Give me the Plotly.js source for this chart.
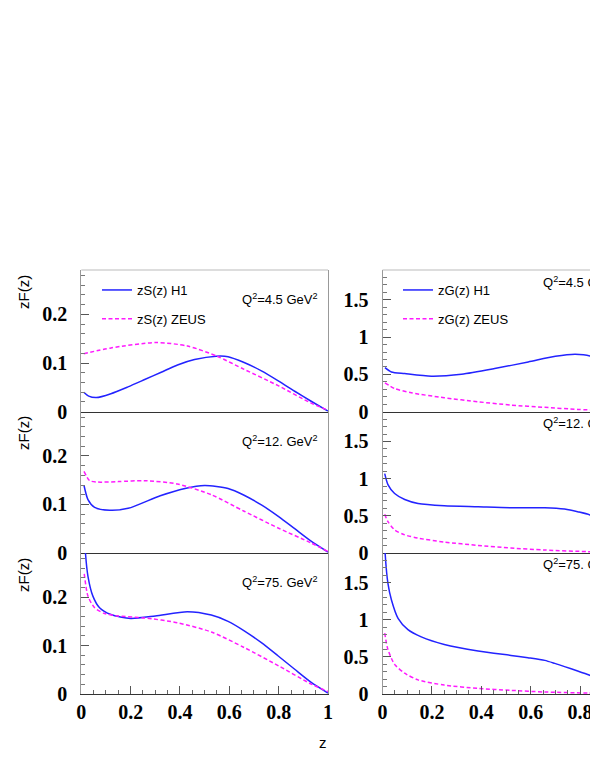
<!DOCTYPE html>
<html>
<head>
<meta charset="utf-8">
<script src="https://cdn.plot.ly/plotly-3.0.1.min.js"></script>
<style>
html,body{margin:0;padding:0;overflow:hidden;background:#fff;}
#chart{width:660px;height:763px;}
</style>
</head>
<body>
<div id="chart"></div>
<script>
// ---- Data ----
// Left column: zS(z) (sea), right column: zG(z) (gluon)
const q2Labels = ["Q<sup>2</sup>=4.5 GeV<sup>2</sup>", "Q<sup>2</sup>=12. GeV<sup>2</sup>", "Q<sup>2</sup>=75. GeV<sup>2</sup>"];
const legendNames = ["zS(z) H1", "zS(z) ZEUS", "zG(z) H1", "zG(z) ZEUS"];
const xTickVals = [0, 0.2, 0.4, 0.6, 0.8, 1];

// Q2 = 4.5
const zS_H1_q1 = [0.01, 0.03, 0.061, 0.12, 0.189, 0.257, 0.324, 0.39, 0.459, 0.547, 0.595, 0.66, 0.73, 0.80, 0.865, 0.93, 1.0];
const S_H1_q1  = [0.040, 0.032, 0.029, 0.037, 0.051, 0.066, 0.081, 0.096, 0.107, 0.114, 0.113, 0.101, 0.084, 0.063, 0.042, 0.022, 0.001];
const zS_ZE_q1 = [0.01, 0.12, 0.30, 0.43, 0.55, 0.66, 0.80, 0.93, 1.0];
const S_ZE_q1  = [0.119, 0.131, 0.142, 0.135, 0.114, 0.087, 0.053, 0.018, 0.003];
const zG_H1_q1 = [0.01, 0.036, 0.09, 0.198, 0.32, 0.454, 0.59, 0.70, 0.78, 0.84, 0.90, 0.95, 1.0];
const G_H1_q1  = [0.59, 0.533, 0.511, 0.476, 0.502, 0.578, 0.667, 0.742, 0.769, 0.747, 0.65, 0.45, 0.0];
const zG_ZE_q1 = [0.01, 0.049, 0.117, 0.25, 0.387, 0.52, 0.657, 0.79, 0.9, 1.0];
const G_ZE_q1  = [0.387, 0.311, 0.253, 0.187, 0.133, 0.089, 0.058, 0.031, 0.015, 0.0];

// Q2 = 12
const zS_H1_q2 = [0.011, 0.027, 0.054, 0.115, 0.19, 0.32, 0.42, 0.50, 0.595, 0.66, 0.73, 0.80, 0.865, 0.93, 1.0];
const S_H1_q2  = [0.139, 0.110, 0.094, 0.088, 0.092, 0.118, 0.133, 0.139, 0.133, 0.119, 0.099, 0.075, 0.050, 0.025, 0.002];
const zS_ZE_q2 = [0.011, 0.034, 0.068, 0.15, 0.257, 0.39, 0.527, 0.66, 0.80, 0.93, 1.0];
const S_ZE_q2  = [0.168, 0.149, 0.146, 0.147, 0.149, 0.142, 0.120, 0.086, 0.051, 0.021, 0.003];
const zG_H1_q2 = [0.009, 0.022, 0.049, 0.09, 0.144, 0.25, 0.387, 0.52, 0.657, 0.737, 0.79, 0.84, 0.92, 1.0];
const G_H1_q2  = [1.067, 0.92, 0.80, 0.72, 0.667, 0.636, 0.622, 0.609, 0.609, 0.591, 0.556, 0.511, 0.35, 0.0];
const zG_ZE_q2 = [0.009, 0.022, 0.049, 0.09, 0.144, 0.25, 0.387, 0.52, 0.657, 0.83, 1.0];
const G_ZE_q2  = [0.52, 0.422, 0.311, 0.244, 0.20, 0.147, 0.102, 0.067, 0.040, 0.018, 0.0];

// Q2 = 75
const zS_H1_q3 = [0.008, 0.017, 0.027, 0.047, 0.074, 0.12, 0.20, 0.30, 0.43, 0.527, 0.595, 0.662, 0.730, 0.797, 0.865, 0.932, 1.0];
const S_H1_q3  = [0.38, 0.29, 0.243, 0.202, 0.178, 0.164, 0.156, 0.161, 0.170, 0.163, 0.150, 0.130, 0.106, 0.079, 0.051, 0.024, 0.002];
const zS_ZE_q3 = [0.012, 0.027, 0.054, 0.095, 0.149, 0.257, 0.39, 0.527, 0.66, 0.80, 0.93, 1.0];
const S_ZE_q3  = [0.248, 0.202, 0.178, 0.166, 0.161, 0.157, 0.147, 0.128, 0.096, 0.058, 0.021, 0.005];
const zG_H1_q3 = [0.006, 0.011, 0.022, 0.036, 0.063, 0.103, 0.157, 0.25, 0.387, 0.52, 0.589, 0.657, 0.697, 0.737, 0.79, 0.839, 0.92, 1.0];
const G_H1_q3  = [2.3, 1.88, 1.49, 1.27, 1.02, 0.867, 0.769, 0.667, 0.578, 0.52, 0.489, 0.453, 0.413, 0.369, 0.311, 0.253, 0.14, 0.0];
const zG_ZE_q3 = [0.009, 0.022, 0.049, 0.09, 0.144, 0.25, 0.387, 0.52, 0.657, 0.83, 1.0];
const G_ZE_q3  = [0.82, 0.60, 0.40, 0.28, 0.19, 0.12, 0.076, 0.049, 0.027, 0.013, 0.0];

// ---- Styling / layout ----
const W = 660, H = 763;
const BLUE = '#2323ff', MAG = '#ff1aff';
const blueLine = {color: BLUE, width: 1.5, shape: 'spline', smoothing: 0.7};
const magLine = {color: MAG, width: 1.5, dash: '4px,2.5px', shape: 'spline', smoothing: 0.7};

function tr(x, y, ax, line, name, legend, show) {
  return {x: x, y: y, type: 'scatter', mode: 'lines', xaxis: 'x' + ax, yaxis: 'y' + ax,
          line: line, name: name, showlegend: show, legend: legend, legendgroup: name, hoverinfo: 'skip'};
}

const traces = [
  tr(zS_H1_q1, S_H1_q1, '', blueLine, legendNames[0], 'legend', true),
  tr(zS_ZE_q1, S_ZE_q1, '', magLine, legendNames[1], 'legend', true),
  tr(zS_H1_q2, S_H1_q2, '2', blueLine, legendNames[0], 'legend', false),
  tr(zS_ZE_q2, S_ZE_q2, '2', magLine, legendNames[1], 'legend', false),
  tr(zS_H1_q3, S_H1_q3, '3', blueLine, legendNames[0], 'legend', false),
  tr(zS_ZE_q3, S_ZE_q3, '3', magLine, legendNames[1], 'legend', false),
  tr(zG_H1_q1, G_H1_q1, '4', blueLine, legendNames[2], 'legend2', true),
  tr(zG_ZE_q1, G_ZE_q1, '4', magLine, legendNames[3], 'legend2', true),
  tr(zG_H1_q2, G_H1_q2, '5', blueLine, legendNames[2], 'legend2', false),
  tr(zG_ZE_q2, G_ZE_q2, '5', magLine, legendNames[3], 'legend2', false),
  tr(zG_H1_q3, G_H1_q3, '6', blueLine, legendNames[2], 'legend2', false),
  tr(zG_ZE_q3, G_ZE_q3, '6', magLine, legendNames[3], 'legend2', false)
];

const xL = [81.3 / W, 328 / W];
const xR = [382.5 / W, 629.5 / W];
const yRows = [
  [(H - 411.7) / H, (H - 270) / H],
  [(H - 553) / H, (H - 411.7) / H],
  [(H - 694) / H, (H - 553) / H]
];
const tickFont = {family: 'Liberation Serif, Times New Roman, serif', size: 20, color: '#000', weight: 'bold'};

function xax(dom, anchor, bottom) {
  const a = {domain: dom, anchor: anchor, range: [0, 1], showgrid: false, zeroline: false,
             showline: true, linecolor: '#333', linewidth: 1, fixedrange: true};
  if (bottom) {
    Object.assign(a, {tickmode: 'array', tickvals: xTickVals, ticktext: xTickVals.map(String),
      ticks: 'inside', ticklen: 8, tickcolor: '#555', tickwidth: 1, tickfont: tickFont,
      minor: {tickmode: 'linear', dtick: 0.05, tick0: 0, ticks: 'inside', ticklen: 4, tickcolor: '#666', tickwidth: 1}});
  } else {
    Object.assign(a, {showticklabels: false, ticks: ''});
  }
  return a;
}
function yax(dom, anchor, left) {
  return {domain: dom, anchor: anchor, range: left ? [0, 0.291] : [0, 1.9], showgrid: false, zeroline: false,
          showline: true, mirror: true, linecolor: '#999', linewidth: 1,
          tickmode: 'linear', dtick: left ? 0.1 : 0.5, tick0: 0, ticks: 'inside', ticklen: 8, tickcolor: '#555', tickwidth: 1,
          tickfont: tickFont, ticklabelstandoff: 9, fixedrange: true,
          minor: {tickmode: 'linear', dtick: left ? 0.02 : 0.1, tick0: 0, ticks: 'inside', ticklen: 4, tickcolor: '#777', tickwidth: 1}};
}

const annFont = {family: 'Liberation Sans, Arial, sans-serif', size: 13, color: '#000'};
const annotations = [];
const yTitleCenters = [292, 433, 575];
yTitleCenters.forEach(function (yc) {
  annotations.push({text: 'zF(z)', xref: 'paper', yref: 'paper', x: 23 / W, y: (H - yc) / H,
    showarrow: false, textangle: -90, xanchor: 'center', yanchor: 'middle',
    font: {family: 'Liberation Sans, Arial, sans-serif', size: 15, color: '#000'}});
});
annotations.push({text: 'z', xref: 'paper', yref: 'paper', x: 323 / W, y: (H - 742) / H, showarrow: false,
  xanchor: 'center', yanchor: 'middle', font: {family: 'Liberation Sans, Arial, sans-serif', size: 15, color: '#000'}});
const qLeftY = [299, 441, 582];
const qRightY = [282, 423, 564];
q2Labels.forEach(function (t, i) {
  annotations.push({text: t, xref: 'paper', yref: 'paper', x: 240 / W, y: (H - qLeftY[i]) / H, showarrow: false,
    xanchor: 'left', yanchor: 'middle', font: annFont});
  annotations.push({text: t, xref: 'paper', yref: 'paper', x: 541 / W, y: (H - qRightY[i]) / H, showarrow: false,
    xanchor: 'left', yanchor: 'middle', font: annFont});
});

const legendBase = {bgcolor: 'rgba(0,0,0,0)', borderwidth: 0, font: annFont, xanchor: 'left', yanchor: 'top',
  traceorder: 'grouped', tracegroupgap: 9, itemwidth: 30};

const layout = {
  width: W, height: H, margin: {l: 0, r: 0, t: 0, b: 0},
  xaxis: xax(xL, 'y', false), yaxis: yax(yRows[0], 'x', true),
  xaxis2: xax(xL, 'y2', false), yaxis2: yax(yRows[1], 'x2', true),
  xaxis3: xax(xL, 'y3', true), yaxis3: yax(yRows[2], 'x3', true),
  xaxis4: xax(xR, 'y4', false), yaxis4: yax(yRows[0], 'x4', false),
  xaxis5: xax(xR, 'y5', false), yaxis5: yax(yRows[1], 'x5', false),
  xaxis6: xax(xR, 'y6', true), yaxis6: yax(yRows[2], 'x6', false),
  legend: Object.assign({x: 97 / W, y: (H - 275) / H}, legendBase),
  legend2: Object.assign({x: 398 / W, y: (H - 275) / H}, legendBase),
  annotations: annotations,
  shapes: [
    {type: 'line', xref: 'x domain', yref: 'y domain', x0: 0, x1: 1, y0: 1, y1: 1, line: {color: '#bbb', width: 1}},
    {type: 'line', xref: 'x4 domain', yref: 'y4 domain', x0: 0, x1: 1, y0: 1, y1: 1, line: {color: '#bbb', width: 1}}
  ],
  showlegend: true
};

Plotly.newPlot('chart', traces, layout, {displayModeBar: false, staticPlot: true}).then(function () {
  // Diagnostic only: report on tick marks through the error output if none are visible.
  setTimeout(function () {
    const ticks = document.querySelectorAll('path.ticks');
    let visible = 0;
    ticks.forEach(function (p) { const r = p.getBoundingClientRect(); if (r.width + r.height > 0) visible++; });
    if (visible === 0) {
      let info = 'DIAG ticks=' + ticks.length + ' visible=' + visible;
      if (ticks[0]) {
        info += ' first=' + ticks[0].outerHTML.slice(0, 200) + ' parent=' + ticks[0].parentNode.getAttribute('class');
        const cs = getComputedStyle(ticks[0]);
        info += ' display=' + cs.display + ' vis=' + cs.visibility + ' op=' + cs.opacity;
      }
      const fl = document.getElementById('chart')._fullLayout;
      info += ' yaxis.ticks=' + fl.yaxis.ticks + ' ticklen=' + fl.yaxis.ticklen + ' xaxis3.ticks=' + fl.xaxis3.ticks;
      throw new Error(info);
    }
  }, 50);
});
</script>
</body>
</html>
